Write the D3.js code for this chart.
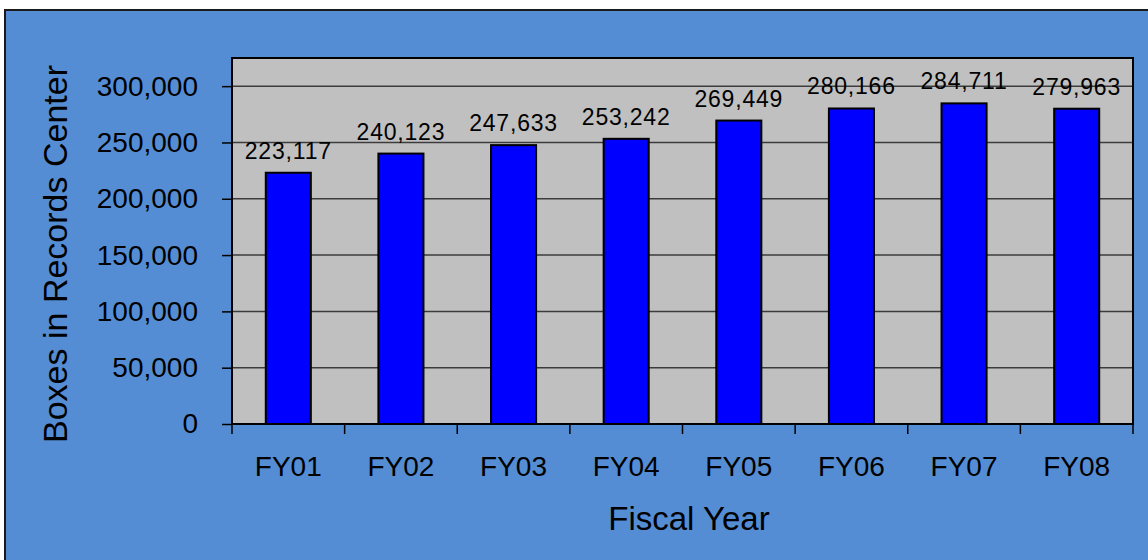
<!DOCTYPE html>
<html>
<head>
<meta charset="utf-8">
<script src="https://cdn.jsdelivr.net/npm/d3@7"></script>
<style>
  html, body { margin: 0; padding: 0; background: #ffffff; }
  svg { display: block; font-family: Arial, "Liberation Sans", sans-serif; }
</style>
</head>
<body>
<div id="chart"></div>
<script>
// data
const years = ["FY01", "FY02", "FY03", "FY04", "FY05", "FY06", "FY07", "FY08"];
const boxes = [223117, 240123, 247633, 253242, 269449, 280166, 284711, 279963];
const yTicks = [0, 50000, 100000, 150000, 200000, 250000, 300000];

function main(){
  const W = 1148, H = 560;
  const plot = {left: 232, right: 1133, top: 58, bottom: 424};

  const svg = d3.select("#chart")
      .append("svg")
      .attr("width", W)
      .attr("height", H);

  // blue panel with dark frame
  svg.append("rect")
    .attr("x", 5).attr("y", 10)
    .attr("width", W + 10).attr("height", H + 10)
    .attr("fill", "#558DD5")
    .attr("stroke", "#1a1a1a")
    .attr("stroke-width", 2);

  const x = d3.scaleBand()
      .domain(years)
      .range([plot.left, plot.right])
      .paddingInner(0.6)
      .paddingOuter(0.3);

  const y = d3.scaleLinear()
      .domain([0, 325000])
      .range([plot.bottom, plot.top]);

  // gray plot area
  svg.append("rect")
    .attr("x", plot.left).attr("y", plot.top)
    .attr("width", plot.right - plot.left)
    .attr("height", plot.bottom - plot.top)
    .attr("fill", "#C0C0C0");

  // gridlines
  svg.append("g")
    .selectAll("line")
    .data(yTicks.filter(d => d > 0))
    .join("line")
    .attr("x1", plot.left).attr("x2", plot.right)
    .attr("y1", d => y(d)).attr("y2", d => y(d))
    .attr("stroke", "#3c3c3c")
    .attr("stroke-width", 1.5);

  // plot frame
  svg.append("rect")
    .attr("x", plot.left).attr("y", plot.top)
    .attr("width", plot.right - plot.left)
    .attr("height", plot.bottom - plot.top)
    .attr("fill", "none")
    .attr("stroke", "#000")
    .attr("stroke-width", 2);

  // bars
  svg.append("g")
    .selectAll("rect")
    .data(boxes)
    .join("rect")
    .attr("x", (d, i) => x(years[i]))
    .attr("y", d => y(d))
    .attr("width", x.bandwidth())
    .attr("height", d => y(0) - y(d))
    .attr("fill", "#0000FF")
    .attr("stroke", "#000")
    .attr("stroke-width", 2);

  // value labels
  svg.append("g")
    .selectAll("text")
    .data(boxes)
    .join("text")
    .attr("x", (d, i) => x(years[i]) + x.bandwidth() / 2)
    .attr("y", d => y(d) - 14)
    .attr("text-anchor", "middle")
    .style("font-size", "23px")
    .style("letter-spacing", "0.8px")
    .attr("fill", "#000")
    .text(d => d3.format(",")(d));

  // y axis
  const yAxis = svg.append("g")
    .attr("transform", `translate(${plot.left},0)`)
    .call(d3.axisLeft(y).tickValues(yTicks).tickSize(10).tickPadding(24).tickFormat(d3.format(",")));
  yAxis.select(".domain").remove();
  yAxis.selectAll("line").attr("stroke", "#000").attr("stroke-width", 1.5);
  yAxis.selectAll("text").style("font-size", "28px").attr("fill", "#000")
    .attr("font-family", null);

  // x axis: ticks at category boundaries
  const bounds = d3.range(years.length + 1).map(i => plot.left + i * x.step());
  svg.append("g")
    .selectAll("line")
    .data(bounds)
    .join("line")
    .attr("x1", d => d).attr("x2", d => d)
    .attr("y1", plot.bottom).attr("y2", plot.bottom + 10)
    .attr("stroke", "#000")
    .attr("stroke-width", 1.5);

  const xAxis = svg.append("g")
    .attr("transform", `translate(0,${plot.bottom})`)
    .call(d3.axisBottom(x).tickSize(0).tickPadding(32));
  xAxis.select(".domain").remove();
  xAxis.selectAll("text").style("font-size", "28px").attr("fill", "#000")
    .attr("font-family", null);

  // axis titles
  svg.append("text")
    .attr("transform", "translate(67,254) rotate(-90)")
    .attr("text-anchor", "middle")
    .style("font-size", "34px")
    .attr("fill", "#000")
    .text("Boxes in Records Center");

  svg.append("text")
    .attr("x", 689).attr("y", 530)
    .attr("text-anchor", "middle")
    .style("font-size", "33px")
    .attr("fill", "#000")
    .text("Fiscal Year");
}

main();
</script>
</body>
</html>
